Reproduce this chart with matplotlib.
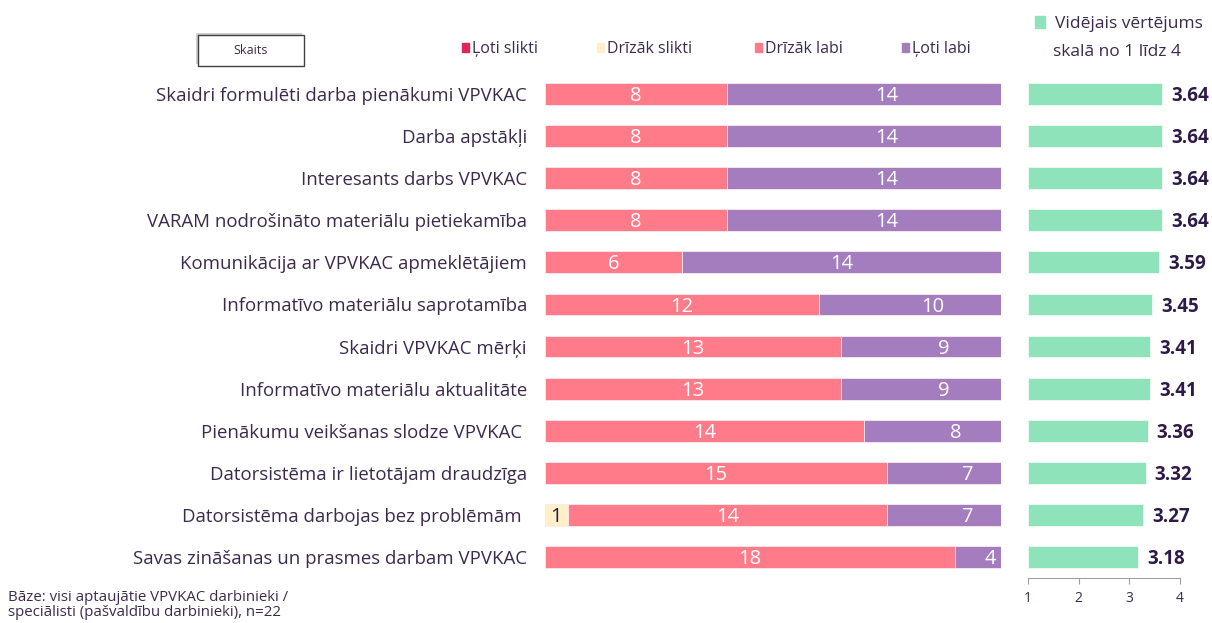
import matplotlib

matplotlib.use("Agg")
import matplotlib.pyplot as plt
from matplotlib.patches import Rectangle
import numpy as np

plt.rcParams["font.family"] = ["Open Sans", "DejaVu Sans"]

categories = [
    "Skaidri formulēti darba pienākumi VPVKAC",
    "Darba apstākļi",
    "Interesants darbs VPVKAC",
    "VARAM nodrošināto materiālu pietiekamība",
    "Komunikācija ar VPVKAC apmeklētājiem",
    "Informatīvo materiālu saprotamība",
    "Skaidri VPVKAC mērķi",
    "Informatīvo materiālu aktualitāte",
    "Pienākumu veikšanas slodze VPVKAC ",
    "Datorsistēma ir lietotājam draudzīga",
    "Datorsistēma darbojas bez problēmām ",
    "Savas zināšanas un prasmes darbam VPVKAC",
]
series_names = ["Ļoti slikti", "Drīzāk slikti", "Drīzāk labi", "Ļoti labi"]
loti_slikti = [0, 0, 0, 0, 0, 0, 0, 0, 0, 0, 0, 0]
drizak_slikti = [0, 0, 0, 0, 0, 0, 0, 0, 0, 0, 1, 0]
drizak_labi = [8, 8, 8, 8, 6, 12, 13, 13, 14, 15, 14, 18]
loti_labi = [14, 14, 14, 14, 14, 10, 9, 9, 8, 7, 7, 4]
mean_score = [3.64, 3.64, 3.64, 3.64, 3.59, 3.45, 3.41, 3.41, 3.36, 3.32, 3.27, 3.18]
BASE = 20  # share base used by the original chart (bars clip at 100 %)

colors = ["#E0245E", "#FFF0C8", "#FF7B89", "#A47DBE"]
label_colors = ["white", "#2E1A47", "white", "white"]
mean_color = "#8FE3BA"
text_color = "#3C2A4D"

W, H = 1212, 623
fig = plt.figure(figsize=(W / 100, H / 100), dpi=100)

n = len(categories)
y = np.arange(n)
ax = fig.add_axes([545 / W, 1 - 578 / H, 456 / W, 505 / H])
left = np.zeros(n)
for vals, col, lc in zip([loti_slikti, drizak_slikti, drizak_labi, loti_labi],
                         colors, label_colors):
    share = np.array(vals) / BASE
    ax.barh(y, share, left=left, height=0.52, color=col,
            edgecolor="#FBE9EE", linewidth=0.6)
    for yi, v, s, l0 in zip(y, vals, share, left):
        if v == 0:
            continue
        xc = min(l0 + s / 2, 0.976)
        ax.text(xc, yi + 0.05, str(v), ha="center", va="center", fontsize=14.5,
                color=lc)
    left = left + share
ax.set_xlim(0, 1)
ax.set_ylim(n - 0.5, -0.5)
ax.set_yticks(y)
ax.set_yticklabels(categories, fontsize=13.4, color=text_color)
ax.tick_params(axis="y", length=0, pad=13)
ax.set_xticks([])
for sp in ax.spines.values():
    sp.set_visible(False)

ax2 = fig.add_axes([1028 / W, 1 - 578 / H, 152 / W, 505 / H])
ax2.barh(y, np.array(mean_score) - 1, left=1, height=0.52, color=mean_color,
         edgecolor="#F0FBF5", linewidth=0.6)
for yi, v in zip(y, mean_score):
    ax2.text(v + 0.18, yi + 0.05, f"{v:.2f}", ha="left", va="center",
             fontsize=13.5, fontweight="bold", color="#2E1A47")
ax2.set_xlim(1, 4)
ax2.set_ylim(n - 0.5, -0.5)
ax2.set_xticks([1, 2, 3, 4])
ax2.set_yticks([])
ax2.tick_params(axis="x", direction="out", length=4, color="#A0A0A0",
                labelsize=10, labelcolor=text_color, pad=5)
for s in ["top", "right", "left"]:
    ax2.spines[s].set_visible(False)
ax2.spines["bottom"].set_color("#A0A0A0")
ax2.patch.set_alpha(0)

# legend for the stacked bars
leg_x = [462, 597, 755, 902]
for lx, col, name in zip(leg_x, colors, series_names):
    fig.patches.append(Rectangle((lx / W, 1 - 52 / H), 7 / W, 9 / H,
                                 color=col, transform=fig.transFigure))
    fig.text((lx + 10) / W, 1 - 49 / H, name, ha="left", va="center",
             fontsize=11.5, color=text_color)

fig.patches.append(Rectangle((1035 / W, 1 - 28 / H), 10 / W, 12 / H,
                             color=mean_color, transform=fig.transFigure))
fig.text(1129 / W, 1 - 24 / H, "Vidējais vērtējums", ha="center", va="center",
         fontsize=12.5, color=text_color)
fig.text(1117 / W, 1 - 52 / H, "skalā no 1 līdz 4", ha="center", va="center",
         fontsize=12.5, color=text_color)

# "Skaits" box with shadow
fig.patches.append(Rectangle((196 / W, 1 - 64 / H), 106 / W, 31 / H,
                             facecolor="#D0D0D0", edgecolor="none",
                             transform=fig.transFigure))
fig.patches.append(Rectangle((198 / W, 1 - 66 / H), 106 / W, 31 / H,
                             facecolor="white", edgecolor="#404040",
                             linewidth=1, transform=fig.transFigure))
fig.text(251 / W, 1 - 51 / H, "Skaits", ha="center", va="center",
         fontsize=9, color=text_color)

fig.text(8 / W, 1 - 605 / H,
         "Bāze: visi aptaujātie VPVKAC darbinieki /\n"
         "speciālisti (pašvaldību darbinieki), n=22",
         ha="left", va="center", fontsize=10.8, color=text_color,
         linespacing=1.05)

fig.savefig("out.png", dpi=100)
